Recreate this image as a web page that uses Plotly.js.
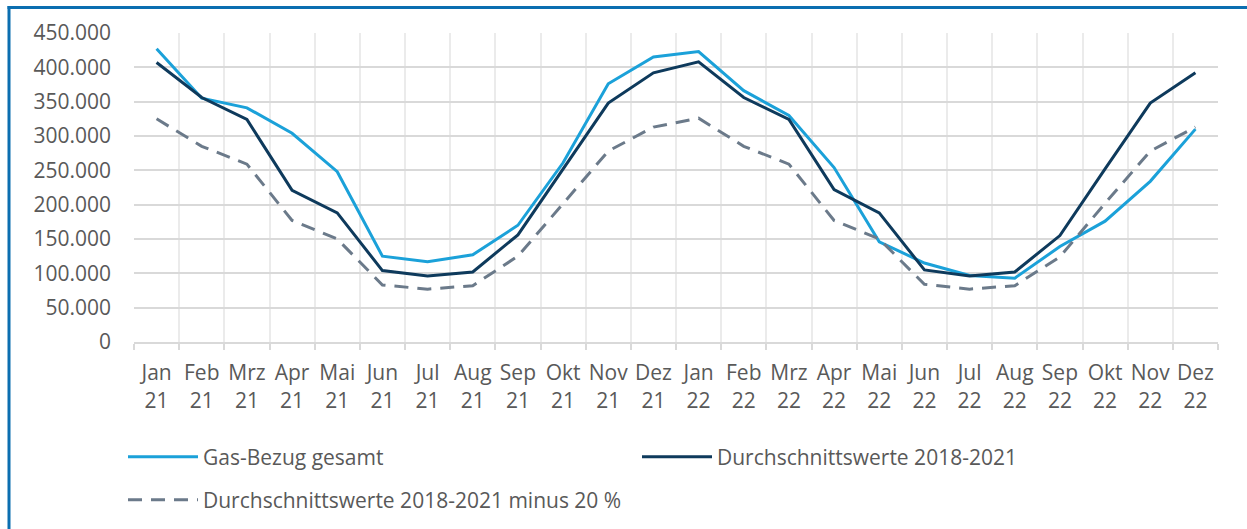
<!DOCTYPE html>
<html>
<head>
<meta charset="utf-8">
<script src="https://cdn.plot.ly/plotly-3.0.1.min.js"></script>
<style>html,body{margin:0;padding:0;background:#fff;}#chart{width:1247px;height:529px;}</style>
</head>
<body>
<div id="chart"></div>
<script>
const categories = ["Jan<br>21","Feb<br>21","Mrz<br>21","Apr<br>21","Mai<br>21","Jun<br>21","Jul<br>21","Aug<br>21","Sep<br>21","Okt<br>21","Nov<br>21","Dez<br>21",
                    "Jan<br>22","Feb<br>22","Mrz<br>22","Apr<br>22","Mai<br>22","Jun<br>22","Jul<br>22","Aug<br>22","Sep<br>22","Okt<br>22","Nov<br>22","Dez<br>22"];
const gasBezug = [427000,355000,341000,304000,248000,125000,117000,127000,170000,261000,376000,415000,
                  423000,366000,330000,254000,146000,115000,97000,93000,139000,176000,234000,310000];
const durchschnitt = [407000,356000,324000,221000,188000,104000,96000,102000,156000,252000,348000,392000,
                      408000,356000,324000,222000,188000,105000,96000,102000,155000,252000,348000,392000];
const durchschnittMinus20 = [325000,285000,259000,177000,150000,83000,77000,82000,125000,202000,278000,313000,
                             326000,285000,259000,177000,150000,84000,77000,82000,124000,202000,278000,313000];
const yTicks = [0,50000,100000,150000,200000,250000,300000,350000,400000,450000];
const names = ["Gas-Bezug gesamt","Durchschnittswerte 2018-2021","Durchschnittswerte 2018-2021 minus 20 %"];

const W = 1247, H = 529, ML = 134, MR = 29, MT = 33, MB = 187;
const PW = W - ML - MR, PH = H - MT - MB;
const px2x = p => (p - ML) / PW;
const py2y = p => (H - MB - p) / PH;

const font = {family: "Open Sans, sans-serif", size: 21, color: "#595959"};

const traces = [
  {x: categories, y: gasBezug, name: names[0], type: "scatter", mode: "lines",
   line: {color: "#1BA1D9", width: 3}, legend: "legend"},
  {x: categories, y: durchschnitt, name: names[1], type: "scatter", mode: "lines",
   line: {color: "#0E3A5C", width: 3}, legend: "legend"},
  {x: categories, y: durchschnittMinus20, name: names[2], type: "scatter", mode: "lines",
   line: {color: "#6B7A8A", width: 3, dash: "14px,9px"}, legend: "legend2"}
];

const borderColor = "#0B6EB0";
const layout = {
  width: W, height: H,
  margin: {l: ML, r: MR, t: MT, b: MB, pad: 0, autoexpand: false},
  paper_bgcolor: "#fff", plot_bgcolor: "#fff",
  separators: ",.",
  font: font,
  showlegend: true,
  xaxis: {
    type: "category", tickson: "boundaries", range: [-0.5, 23.5], automargin: false,
    showgrid: true, gridcolor: "#EBEBEB", gridwidth: 2,
    showline: true, linecolor: "#D9D9D9", linewidth: 2,
    ticks: "outside", ticklen: 6, tickcolor: "#D9D9D9", tickwidth: 2,
    ticklabelstandoff: 11,
    tickfont: font, tickangle: 0, fixedrange: true, zeroline: false
  },
  yaxis: {
    range: [0, 450000], tickvals: yTicks, tickformat: ",d", automargin: false,
    showgrid: true, gridcolor: "#D9D9D9", gridwidth: 2,
    zeroline: false, showline: false, ticks: "",
    ticklabelstandoff: 22, tickfont: font, fixedrange: true
  },
  legend: {orientation: "h", x: px2x(123), y: py2y(457), xanchor: "left", yanchor: "middle",
           entrywidth: 429, entrywidthmode: "pixels", itemwidth: 70, font: font,
           bgcolor: "rgba(0,0,0,0)"},
  legend2: {orientation: "h", x: px2x(123), y: py2y(500), xanchor: "left", yanchor: "middle",
            itemwidth: 70, font: font, bgcolor: "rgba(0,0,0,0)"},
  shapes: [
    {type: "line", xref: "paper", yref: "paper", x0: px2x(9), x1: px2x(9), y0: py2y(6), y1: py2y(H + 2),
     line: {color: borderColor, width: 3}},
    {type: "line", xref: "paper", yref: "paper", x0: px2x(7.5), x1: px2x(W + 2), y0: py2y(7.5), y1: py2y(7.5),
     line: {color: borderColor, width: 3}}
  ]
};

Plotly.newPlot("chart", traces, layout, {displayModeBar: false, staticPlot: true});
</script>
</body>
</html>
